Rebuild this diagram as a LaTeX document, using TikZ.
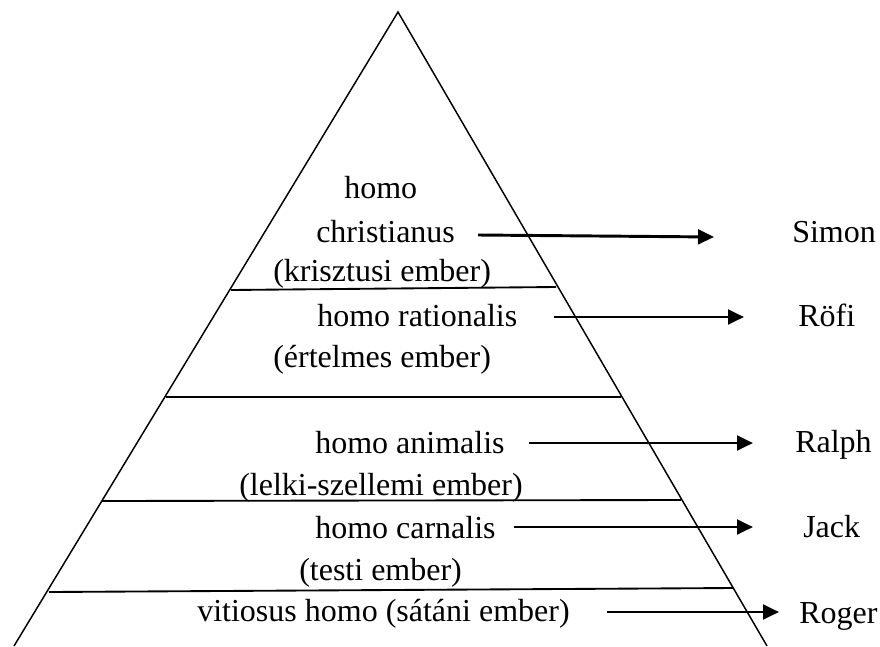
\documentclass[tikz,border=0pt]{standalone}
\usepackage{fontspec}
\setmainfont{Liberation Serif}
\usetikzlibrary{arrows.meta}

\begin{document}
\begin{tikzpicture}[x=0.75pt,y=0.75pt,yscale=-1,xscale=1,
		lbl/.style={anchor=base west,inner sep=0pt,font=\fontsize{24}{28}\selectfont},
		sep/.style={line width=1.4pt},
		arr/.style={line width=2.2pt,-{Triangle[length=12pt,width=11pt]}}]
		\useasboundingbox (0,0) rectangle (880,646);
		% pyramid
		\coordinate (apex) at (398,12);
		\coordinate (bl) at (14,646);
		\coordinate (br) at (767,646);
		\draw [line width=1.1pt] (bl) -- (apex) -- (br);
		% levels
		\draw [sep] (231,290) -- (556,287);
		\draw [sep] (166,397) -- (621,397);
		\draw [sep] (102,501) -- (681,500);
		\draw [sep] (49,592) -- (733,588);
		% texts inside
		\node (h1) [lbl] at (344,198) {homo};
		\node (h2) [lbl] at (316,242) {christianus};
		\node (h3) [lbl] at (273,281) {(krisztusi ember)};
		\node (r1) [lbl] at (317,326) {homo rationalis};
		\node (r2) [lbl] at (273,367) {(értelmes ember)};
		\node (a1) [lbl] at (315,453) {homo animalis};
		\node (a2) [lbl] at (239,495) {(lelki-szellemi ember)};
		\node (c1) [lbl] at (315,538) {homo carnalis};
		\node (c2) [lbl] at (299,580) {(testi ember)};
		\node (v1) [lbl] at (197,621) {vitiosus homo (sátáni ember)};
		% names
		\node (simon) [lbl] at (792,242) {Simon};
		\node (rofi) [lbl] at (798,326) {Röfi};
		\node (ralph) [lbl] at (795,452) {Ralph};
		\node (jack) [lbl] at (803,537) {Jack};
		\node (roger) [lbl] at (799,623) {Roger};
		% arrows
		\coordinate (s0) at (478,235); \coordinate (s1) at (714,237);
		\coordinate (f0) at (554,317); \coordinate (f1) at (744,317);
		\coordinate (p0) at (529,443); \coordinate (p1) at (753,443);
		\coordinate (j0) at (514,527); \coordinate (j1) at (753,527);
		\coordinate (g0) at (607,612); \coordinate (g1) at (779,612);
		\draw [arr] (s0) -- (s1);
		\draw [arr] (f0) -- (f1);
		\draw [arr] (p0) -- (p1);
		\draw [arr] (j0) -- (j1);
		\draw [arr] (g0) -- (g1);
\end{tikzpicture}
\end{document}
